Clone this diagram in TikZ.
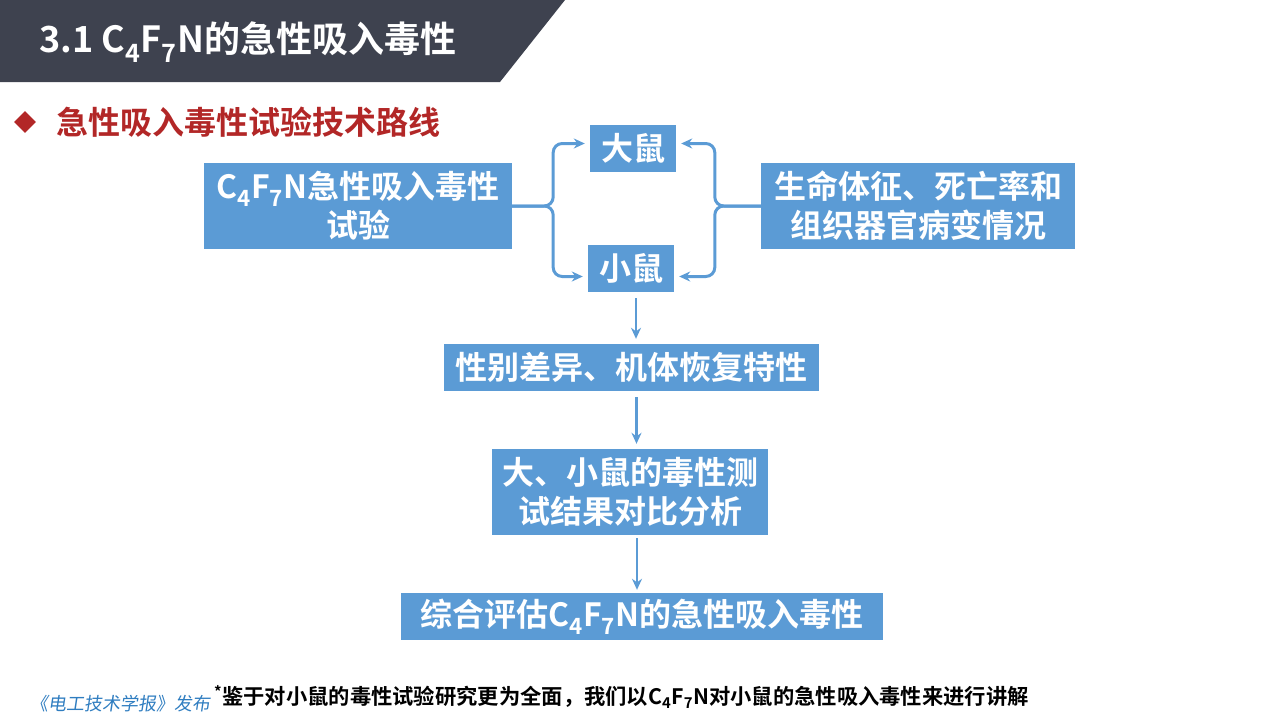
\documentclass[tikz,border=0pt]{standalone}
\usepackage{fontspec}
\usetikzlibrary{arrows.meta,calc,positioning,shapes.geometric}
\setmainfont{Noto Sans CJK SC}
\newfontfamily\cjkb{Noto Sans CJK SC Bold}
\newfontfamily\cjkr{Noto Sans CJK SC}
\newcommand{\cfn}{C\textsubscript{4}F\textsubscript{7}N}
\definecolor{boxblue}{HTML}{5B9BD5}
\definecolor{bargray}{HTML}{3E424F}
\definecolor{headred}{HTML}{B22727}
\definecolor{pubblue}{HTML}{2F7DC0}
\tikzset{
  stepbox/.style={fill=boxblue,text=white,inner sep=0pt,align=center,
    font=\cjkb\fontsize{32}{39}\selectfont},
  arr/.style={-{Stealth[length=11pt,width=10pt]},line width=3pt,draw=boxblue},
  brace/.style={arr,rounded corners=9pt},
}
\begin{document}
\begin{tikzpicture}[x=1pt,y=-1pt]
\useasboundingbox (0,0) rectangle (1280,720);

% title bar
\fill[bargray] (0,0) -- (565,0) -- (500,82) -- (0,82) -- cycle;
\node[anchor=west,text=white,font=\cjkb\fontsize{36}{40}\selectfont] (title) at (36,42) {3.1 \cfn 的急性吸入毒性};

% heading
\node[diamond,fill=headred,minimum size=22pt,inner sep=0pt] (dia) at (25,122) {};
\node[anchor=west,text=headred,font=\cjkb\fontsize{32}{36}\selectfont,right=17pt of dia] (head) {急性吸入毒性试验技术路线};

% boxes
\node[stepbox,minimum width=308pt,minimum height=86pt] (cond) at (358,206) {\cfn 急性吸入毒性\\试验};
\node[stepbox,minimum width=86pt,minimum height=47pt] (rat) at (633,148.5) {大鼠};
\node[stepbox,minimum width=86pt,minimum height=47pt] (mouse) at (631,268.5) {小鼠};
\node[stepbox,minimum width=314pt,minimum height=86pt] (sign) at (918,206) {生命体征、死亡率和\\组织器官病变情况};
\node[stepbox,minimum width=375pt,minimum height=47pt] (sex) at (631.5,367.5) {性别差异、机体恢复特性};
\node[stepbox,minimum width=276pt,minimum height=86pt] (cmp) at (630,492) {大、小鼠的毒性测\\试结果对比分析};
\node[stepbox,minimum width=482pt,minimum height=47pt] (eval) at (642,616.5) {综合评估\cfn 的急性吸入毒性};

% braces
\coordinate (bl) at ($(cond.east)+(41,0)$);
\coordinate (br) at ($(sign.west)+(-46,0)$);
\draw[brace,shorten >=5pt] (cond.east) -- (bl) |- ($(rat.west)+(0,-5)$);
\draw[brace,shorten >=5pt] (cond.east) -- (bl) |- ($(mouse.west)+(0,8)$);
\draw[brace,shorten >=5pt] (sign.west) -- (br) |- ($(rat.east)+(0,-5)$);
\draw[brace,shorten >=5pt] (sign.west) -- (br) |- ($(mouse.east)+(0,8)$);

% flow down
\coordinate (d1) at ($(mouse.south)+(5,0)$);
\coordinate (d2) at ($(sex.south)+(5,0)$);
\coordinate (d3) at ($(cmp.south)+(7,0)$);
\draw[arr,line width=2.5pt,shorten <=6pt,shorten >=5pt] (d1) -- (d1 |- sex.north);
\draw[arr,line width=2.5pt,shorten <=6pt,shorten >=5pt] (d2) -- (d2 |- cmp.north);
\draw[arr,line width=2.5pt,shorten <=3pt,shorten >=3pt] (d3) -- (d3 |- eval.north);

% footer
\node[anchor=west,text=pubblue,font=\cjkr\fontsize{18}{20}\selectfont,xslant=0.15] (pub) at (28,704) {《电工技术学报》发布};
\node[anchor=west,font=\cjkb\fontsize{21.3}{24}\selectfont,inner sep=0pt] (note) at (214,697) {\textsuperscript{*}鉴于对小鼠的毒性试验研究更为全面，我们以\cfn 对小鼠的急性吸入毒性来进行讲解};
\end{tikzpicture}
\end{document}
